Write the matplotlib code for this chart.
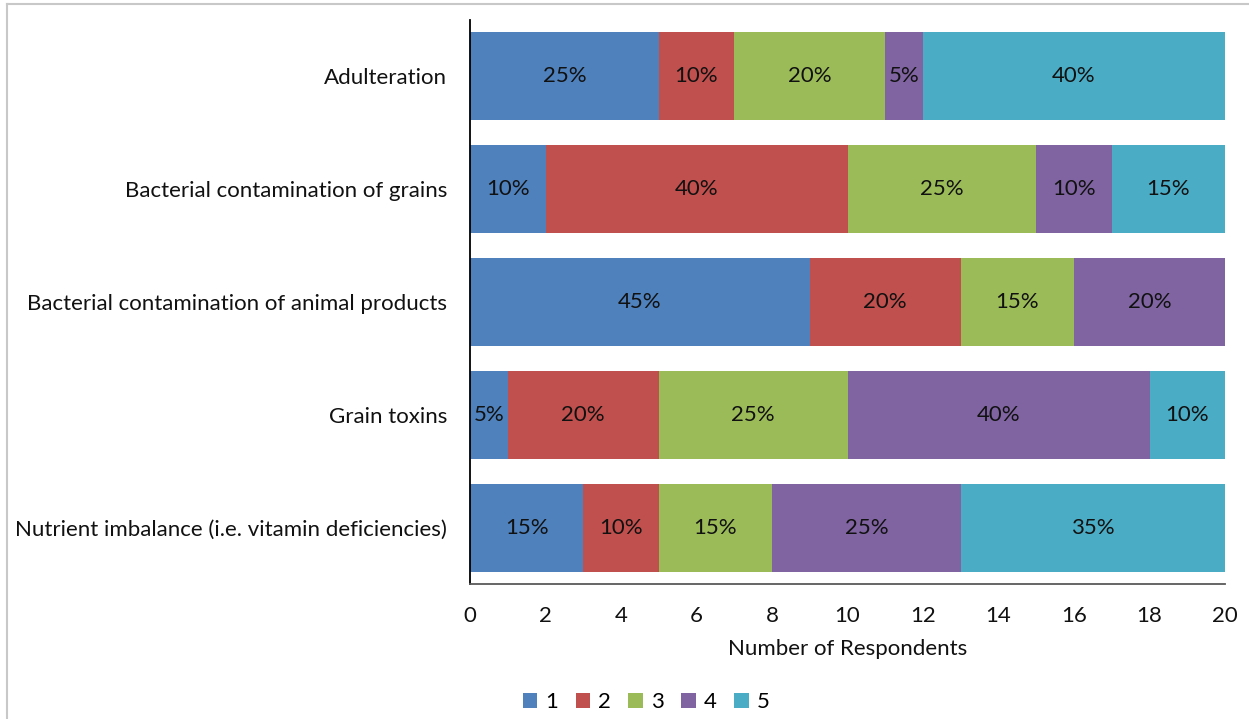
import matplotlib
matplotlib.use("Agg")
import matplotlib.pyplot as plt
from matplotlib.lines import Line2D
from matplotlib.patches import Patch

categories = [
    "Adulteration",
    "Bacterial contamination of grains",
    "Bacterial contamination of animal products",
    "Grain toxins",
    "Nutrient imbalance (i.e. vitamin deficiencies)",
]
series_names = ["1", "2", "3", "4", "5"]
s1 = [5, 2, 9, 1, 3]
s2 = [2, 8, 4, 4, 2]
s3 = [4, 5, 3, 5, 3]
s4 = [1, 2, 4, 8, 5]
s5 = [8, 3, 0, 2, 7]
total = 20
xticks = [0, 2, 4, 6, 8, 10, 12, 14, 16, 18, 20]
colors = ["#4F81BD", "#C0504D", "#9BBB59", "#8064A2", "#4BACC6"]

FONT = "Lato"
FS = 16
TC = "#111111"

fig = plt.figure(figsize=(12.49, 7.19), dpi=100)
ax = fig.add_axes([470/1249, 1-584/719, (1225-470)/1249, (584-20)/719])

ypos = list(range(len(categories)))
left = [0]*len(categories)
for name, vals, c in zip(series_names, [s1, s2, s3, s4, s5], colors):
    bars = ax.barh(ypos, vals, left=left, height=0.78, color=c, label=name, linewidth=0)
    for b, v, l in zip(bars, vals, left):
        if v > 0:
            ax.text(l + v/2, b.get_y() + b.get_height()/2, f"{round(v/total*100)}%",
                    ha="center", va="center", fontsize=FS, family=FONT, color=TC)
    left = [a + b for a, b in zip(left, vals)]

ax.set_ylim(len(categories)-0.5, -0.5)
ax.set_xlim(0, total)
ax.set_yticks(ypos)
ax.set_yticklabels(categories, fontsize=FS, family=FONT, color=TC)
ax.set_xticks(xticks)
ax.set_xticklabels([str(t) for t in xticks], fontsize=FS, family=FONT, color=TC)
ax.tick_params(axis="both", length=0)
ax.tick_params(axis="y", pad=16.5)
ax.tick_params(axis="x", pad=15.5)
for s in ["top", "right"]:
    ax.spines[s].set_visible(False)
ax.spines["left"].set_color("#000000")
ax.spines["left"].set_linewidth(1.3)
ax.spines["bottom"].set_color("#595959")
ax.spines["bottom"].set_linewidth(1.3)
ax.set_xlabel("Number of Respondents", fontsize=FS, family=FONT, color=TC, labelpad=10)

handles = [Patch(facecolor=c, edgecolor="none") for c in colors]
fig.legend(handles, series_names, loc="center", bbox_to_anchor=(646/1249, 1-702/719),
           ncol=5, frameon=False, prop={"family": FONT, "size": FS},
           handlelength=0.65, handleheight=0.65, handletextpad=0.35, columnspacing=0.8)

# chart-area border lines (top and left)
fig.add_artist(Line2D([7/1249, 1], [1-4/719, 1-4/719], color="#c8c8c8", lw=1.5, transform=fig.transFigure))
fig.add_artist(Line2D([7/1249, 7/1249], [0, 1-4/719], color="#c8c8c8", lw=1.5, transform=fig.transFigure))

fig.savefig("out.png", dpi=100)
